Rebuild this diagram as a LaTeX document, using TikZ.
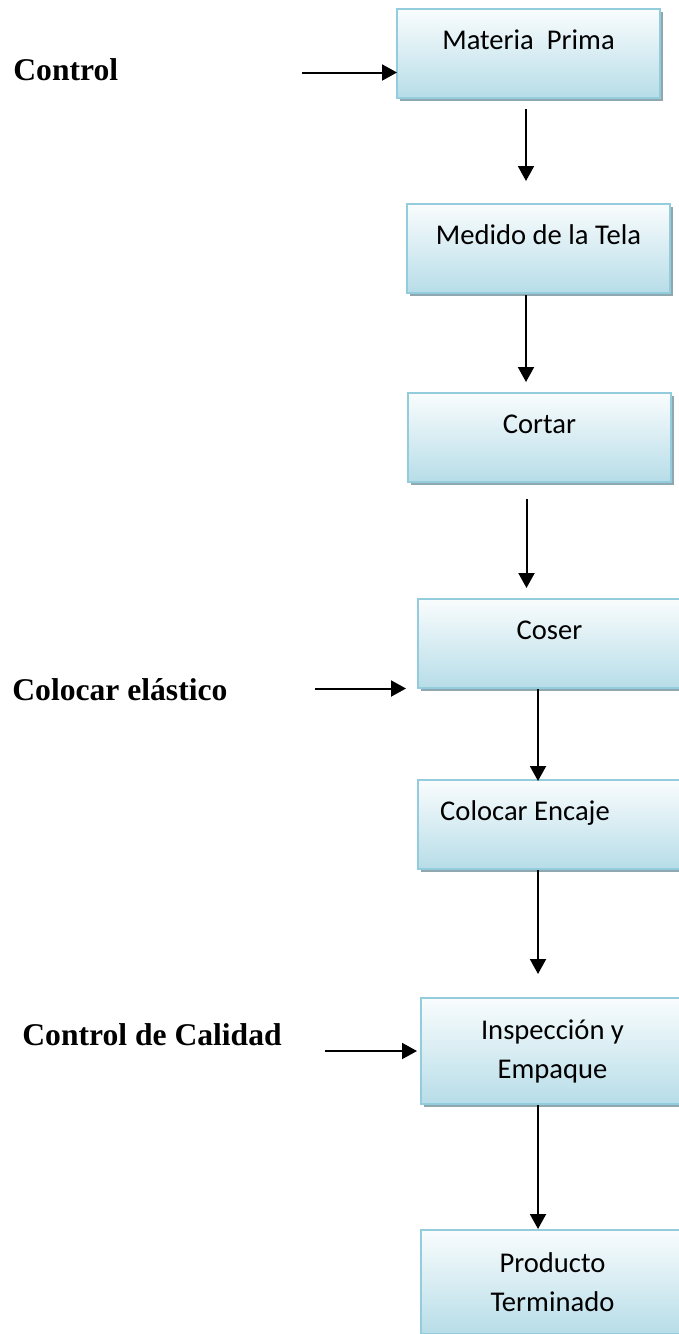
\documentclass[tikz,border=0pt]{standalone}
\usepackage{fontspec}
\setmainfont{Liberation Serif}
\newfontfamily\calibri{Carlito}
\usetikzlibrary{arrows.meta,shadows}
\definecolor{bordeazul}{HTML}{93CDDD}
\definecolor{fondoazul}{HTML}{B7DDE8}
\definecolor{sombra}{HTML}{8FA8B0}
\tikzset{
  paso/.style={draw=bordeazul, line width=1pt, anchor=north west, inner sep=0pt,
    top color=fondoazul!8, middle color=fondoazul!55, bottom color=fondoazul,
    minimum width=131.5pt, minimum height=44.5pt, align=center,
    font=\calibri\fontsize{14.3}{19.5}\selectfont,
    drop shadow={shadow xshift=1.5pt, shadow yshift=-1.5pt, fill=sombra, opacity=1}},
  pasouno/.style={paso, text height=10pt, text depth=13.8pt},
  etiqueta/.style={anchor=base west, inner sep=0pt, font=\bfseries\fontsize{15.8}{19}\selectfont},
  flecha/.style={line width=1pt, -{Triangle[length=7.5pt,width=8pt]}}
}
\begin{document}
\begin{tikzpicture}[x=0.5pt,y=-0.5pt]
\useasboundingbox (0,0) rectangle (679,1334);
\node[pasouno] (b1) at (396,8) {Materia\ \ Prima};
\node[pasouno] (b2) at (406,203) {Medido de la Tela};
\node[pasouno] (b3) at (407,392) {Cortar};
\node[pasouno] (b4) at (417,598) {Coser};
\node[pasouno] (b5) at (417,779) {Colocar Encaje\hspace*{24.5pt}};
\node[paso, minimum height=53pt] (b6) at (420,997) {Inspección y\\Empaque};
\node[paso, minimum height=52pt] (b7) at (420,1229) {Producto\\Terminado};
\node[etiqueta] (control) at (13,80) {Control};
\node[etiqueta] (elastico) at (12,700) {Colocar elástico};
\node[etiqueta] (calidad) at (22,1045) {Control de Calidad};
% flechas del proceso
\draw[flecha] (b1.south) ++(-2.5,10) -- ++(0,72);
\draw[flecha] (b2.south) ++(-12.5,1) -- ++(0,87);
\draw[flecha] (b3.south) ++(-13,16) -- ++(0,89);
\draw[flecha] (b4.south) ++(-11.5,0) -- ++(0,92);
\draw[flecha] (b5.south) ++(-11.5,0) -- ++(0,104);
\draw[flecha] (b6.south) ++(-14.5,0) -- ++(0,124);
% entradas laterales
\draw[flecha] (b1.west) ++(-94,19) -- ++(95,0);
\draw[flecha] (b4.west) ++(-102,45) -- ++(91,0);
\draw[flecha] (b6.west) ++(-95,0) -- ++(92,0);
\end{tikzpicture}
\end{document}
